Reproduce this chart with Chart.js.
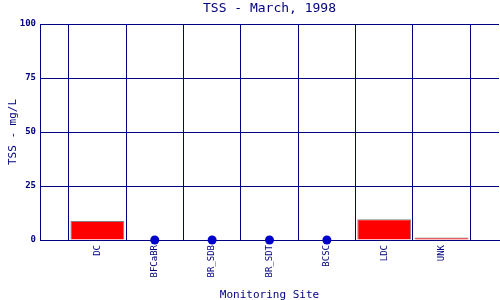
<!DOCTYPE html>
<html><head><meta charset="utf-8">
<script src="https://cdn.jsdelivr.net/npm/chart.js@4"></script>
<style>html,body{margin:0;padding:0;background:#fff}#wrap{width:500px;height:300px}</style>
</head><body><div id="wrap"><canvas id="c" width="500" height="300"></canvas></div>
<script>
const sites = ['', 'DC', 'BFCaBR', 'BR_SDB', 'BR_SDT', 'BCSC', 'LDC', 'UNK', ''];
const tssValues = [null, 8.8, null, null, null, null, 9.6, 1.1, null];
const missingMarkers = [null, null, 0, 0, 0, 0, null, null, null];
const yTicks = [0, 25, 50, 75, 100];
const navy = '#000080';
const mono = 'DejaVu Sans Mono';
new Chart(document.getElementById('c'), {
  data: {
    labels: sites,
    datasets: [
      { type: 'bar', data: tssValues, backgroundColor: '#ff0000', borderColor: '#808080', borderWidth: 1,
        barPercentage: 0.94, categoryPercentage: 1.0 },
      { type: 'line', data: missingMarkers, showLine: false, pointRadius: 4.5, pointBackgroundColor: '#0000cc',
        pointBorderColor: '#0000cc', pointBorderWidth: 0, clip: false }
    ]
  },
  options: {
    responsive: false, animation: false, devicePixelRatio: 1,
    layout: { autoPadding: false, padding: { left: 0, right: 1, top: 0, bottom: 0 } },
    plugins: {
      legend: { display: false }, tooltip: { enabled: false },
      title: { display: true, fullSize: false, text: 'TSS - March, 1998', color: navy, font: { family: mono, size: 13, weight: 'normal' }, padding: { top: 1, bottom: 7.4 } }
    },
    scales: {
      x: {
        offset: false,
        grid: { color: navy, lineWidth: 1, drawTicks: false },
        border: { color: navy, width: 1 },
        ticks: { color: navy, font: { family: mono, size: 9 }, minRotation: 90, maxRotation: 90, autoSkip: false, padding: 5 },
        title: { display: true, text: 'Monitoring Site', color: navy, font: { family: mono, size: 11 }, padding: { top: 0, bottom: -2 } },
        afterFit: s => { s.height = 60; s.paddingLeft = 0; s.paddingRight = 0; }
      },
      y: {
        min: 0, max: 100,
        afterBuildTicks: s => { s.ticks = yTicks.map(v => ({ value: v })); },
        grid: { color: navy, lineWidth: 1, drawTicks: false },
        border: { color: navy, width: 1 },
        ticks: { color: navy, font: { family: mono, size: 9, weight: 'bold' }, padding: 4 },
        title: { display: true, text: 'TSS - mg/L', color: navy, font: { family: mono, size: 11 }, padding: { top: 7, bottom: 0 } },
        afterFit: s => { s.width = 40; }
      }
    }
  }
});
</script></body></html>
